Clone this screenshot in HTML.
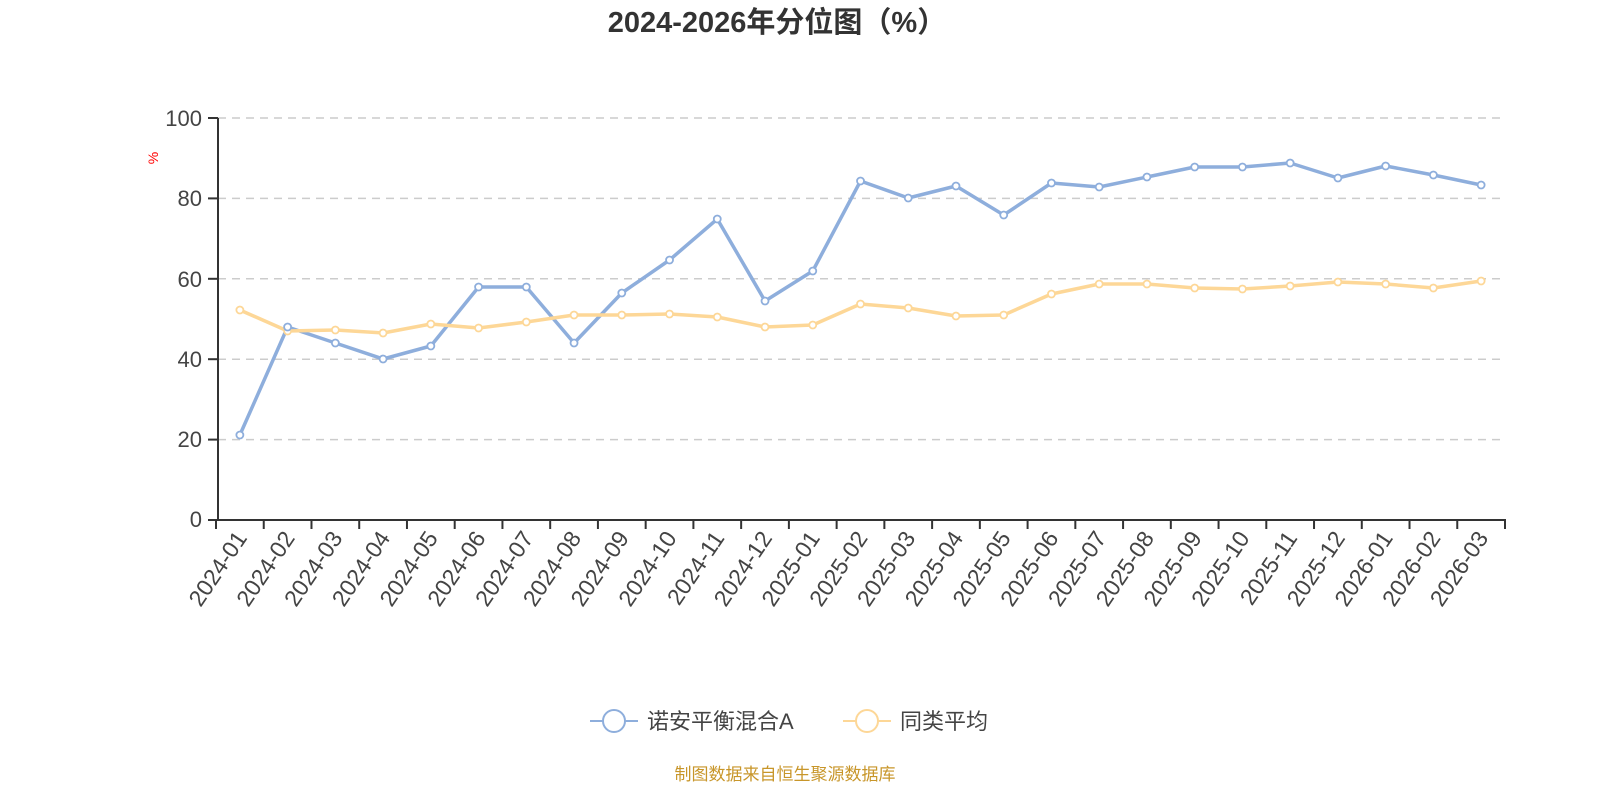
<!DOCTYPE html>
<html><head><meta charset="utf-8"><style>
body{margin:0;background:#fff;}
svg text{font-family:"Liberation Sans","Noto Sans CJK SC",sans-serif;}
</style></head><body>
<svg width="1600" height="800" viewBox="0 0 1600 800" xmlns="http://www.w3.org/2000/svg">
<text x="777" y="32" text-anchor="middle" font-size="29" font-weight="bold" fill="#333">2024-2026年分位图（%）</text>
<g stroke="#ccc" stroke-width="1.5" stroke-dasharray="8,6">
<line x1="218" y1="118" x2="1505" y2="118"/>
<line x1="218" y1="198.4" x2="1505" y2="198.4"/>
<line x1="218" y1="278.8" x2="1505" y2="278.8"/>
<line x1="218" y1="359.2" x2="1505" y2="359.2"/>
<line x1="218" y1="439.6" x2="1505" y2="439.6"/>
</g>
<g font-size="22" fill="#444" text-anchor="end">
<text x="202" y="126">100</text><text x="202" y="206">80</text><text x="202" y="287">60</text><text x="202" y="367">40</text><text x="202" y="447">20</text><text x="202" y="527">0</text>
</g>
<text transform="translate(158,158) rotate(-90)" font-size="14" fill="red" text-anchor="middle">%</text>
<g stroke="#333" stroke-width="2">
<line x1="218" y1="118" x2="218" y2="521"/>
<line x1="208" y1="118" x2="218" y2="118"/><line x1="208" y1="198.4" x2="218" y2="198.4"/><line x1="208" y1="278.8" x2="218" y2="278.8"/><line x1="208" y1="359.2" x2="218" y2="359.2"/><line x1="208" y1="439.6" x2="218" y2="439.6"/><line x1="208" y1="520" x2="218" y2="520"/>
<line x1="214" y1="520" x2="1506" y2="520"/>
</g>
<g id="ticks" stroke="#333" stroke-width="2"></g>
<g id="labels" font-size="23" fill="#444"></g>
<polyline id="b" fill="none" stroke="#8eaedc" stroke-width="3.5" stroke-linejoin="round"/>
<polyline id="y" fill="none" stroke="#fdd797" stroke-width="3.5" stroke-linejoin="round"/>
<g id="pts"></g>
<line x1="590" y1="721" x2="638" y2="721" stroke="#8eaedc" stroke-width="2"/>
<circle cx="614" cy="721" r="11" fill="#fff" stroke="#8eaedc" stroke-width="2"/>
<text x="647" y="729" font-size="22" fill="#444">诺安平衡混合A</text>
<line x1="843" y1="721" x2="891" y2="721" stroke="#fdd797" stroke-width="2"/>
<circle cx="867" cy="721" r="11" fill="#fff" stroke="#fdd797" stroke-width="2"/>
<text x="900" y="729" font-size="22" fill="#444">同类平均</text>
<text x="785" y="780" text-anchor="middle" font-size="17" fill="#c8962a">制图数据来自恒生聚源数据库</text>
</svg>
<script>
var x0=216,x1=1505,n=27,w=(x1-x0)/n;
var B=[435,327,343,359,346,287,287,343,293,260,219,301,271,181,198,186,215,183,187,177,167,167,163,178,166,175,185];
var Y=[310,331,330,333,324,328,322,315,315,314,317,327,325,304,308,316,315,294,284,284,288,289,286,282,284,288,281];
var ns="http://www.w3.org/2000/svg",t=document.getElementById('ticks'),l=document.getElementById('labels'),p=document.getElementById('pts');
var months=[];for(var yy=2024;yy<=2026;yy++)for(var m=1;m<=12;m++)months.push(yy+'-'+(m<10?'0':'')+m);
var pb=[],py=[];
for(var i=0;i<=n;i++){var e=document.createElementNS(ns,'line');var xx=x0+w*i;e.setAttribute('x1',xx);e.setAttribute('x2',xx);e.setAttribute('y1',520);e.setAttribute('y2',529);t.appendChild(e);}
for(var i=0;i<n;i++){var cx=x0+w*(i+0.5);
var tx=document.createElementNS(ns,'text');tx.setAttribute('text-anchor','end');tx.setAttribute('transform','translate('+(cx+8)+',538) rotate(-56)');tx.textContent=months[i];l.appendChild(tx);
pb.push(cx+','+B[i]);py.push(cx+','+Y[i]);}
document.getElementById('b').setAttribute('points',pb.join(' '));
document.getElementById('y').setAttribute('points',py.join(' '));
[[Y,'#fdd797'],[B,'#8eaedc']].forEach(function(s){for(var i=0;i<n;i++){var c=document.createElementNS(ns,'circle');c.setAttribute('cx',x0+w*(i+0.5));c.setAttribute('cy',s[0][i]);c.setAttribute('r',3.5);c.setAttribute('fill','#fff');c.setAttribute('stroke',s[1]);c.setAttribute('stroke-width',1.8);p.appendChild(c);}});
</script>
</body></html>
